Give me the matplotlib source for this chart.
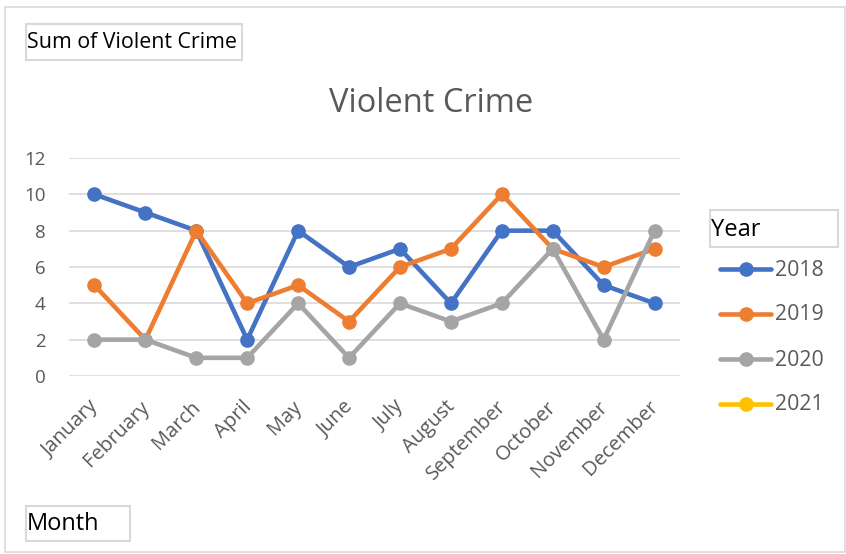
import matplotlib
matplotlib.use("Agg")
import matplotlib.pyplot as plt
import matplotlib.transforms as mtransforms
from matplotlib.patches import Rectangle
from matplotlib.lines import Line2D

plt.rcParams['font.family'] = ['Open Sans', 'DejaVu Sans']

months = ["January", "February", "March", "April", "May", "June", "July",
          "August", "September", "October", "November", "December"]
years = ["2018", "2019", "2020", "2021"]
crime_2018 = [10, 9, 8, 2, 8, 6, 7, 4, 8, 8, 5, 4]
crime_2019 = [5, 2, 8, 4, 5, 3, 6, 7, 10, 7, 6, 7]
crime_2020 = [2, 2, 1, 1, 4, 1, 4, 3, 4, 7, 2, 8]
crime_2021 = []
series = [crime_2018, crime_2019, crime_2020, crime_2021]
colors = ["#4472C4", "#ED7D31", "#A5A5A5", "#FFC000"]
yticks = [0, 2, 4, 6, 8, 10, 12]

W, H = 846, 554
fig = plt.figure(figsize=(W / 100, H / 100), dpi=100)

def fx(px):
    return px / W

def fy(py):
    return 1 - py / H

# outer chart border
fig.add_artist(Rectangle((fx(5), fy(552)), fx(845) - fx(5), fy(7) - fy(552),
                         transform=fig.transFigure, fill=False,
                         edgecolor="#D9D9D9", linewidth=1.2))

ax = fig.add_axes([fx(69), fy(376), fx(680) - fx(69), fy(158) - fy(376)])
x = list(range(len(months)))
for vals, c in zip(series, colors):
    if vals:
        ax.plot(x[:len(vals)], vals, color=c, linewidth=3.3, marker="o",
                markersize=9.5, solid_capstyle="round", zorder=3)

ax.set_xlim(-0.5, len(months) - 0.5)
ax.set_ylim(0, 12)
ax.set_yticks(yticks)
ax.set_yticklabels([str(v) for v in yticks])
ax.yaxis.grid(True, color="#D9D9D9", linewidth=1.2)
ax.set_axisbelow(True)
for s in ax.spines.values():
    s.set_visible(False)
ax.tick_params(axis="y", length=0, pad=17, labelsize=13.5, labelcolor="#595959")
ax.tick_params(axis="x", length=0, pad=15, labelsize=14.5, labelcolor="#595959")
ax.set_xticks(x)
ax.set_xticklabels(months, rotation=45, ha="right", rotation_mode="anchor")
offset = mtransforms.ScaledTranslation(-6 / 100, 0, fig.dpi_scale_trans)
for lab in ax.get_xticklabels():
    lab.set_transform(lab.get_transform() + offset)

fig.text(fx(431), fy(104), "Violent Crime", ha="center", va="center",
         fontsize=23.5, color="#595959")

def boxed(x0, y0, x1, y1, text, size):
    fig.add_artist(Rectangle((fx(x0), fy(y1)), fx(x1) - fx(x0), fy(y0) - fy(y1),
                             transform=fig.transFigure, fill=False,
                             edgecolor="#D9D9D9", linewidth=1.5))
    fig.text(fx(x0 + 1), fy((y0 + y1) / 2 + 1), text, ha="left", va="center",
             fontsize=size, color="black")

boxed(26, 24, 242, 60, "Sum of Violent Crime", 15.4)
boxed(26, 506, 130, 541, "Month", 17)
boxed(710, 210, 838, 247, "Year", 17)

# legend
leg_y = [269, 314, 359, 404]
for yy, name, c in zip(leg_y, years, colors):
    fig.add_artist(Line2D([fx(720), fx(771)], [fy(yy), fy(yy)],
                          transform=fig.transFigure, color=c, linewidth=3.3,
                          solid_capstyle="round"))
    fig.add_artist(Line2D([fx(745.5)], [fy(yy)], transform=fig.transFigure,
                          color=c, marker="o", markersize=9.5, linestyle="none"))
    fig.text(fx(775), fy(yy + 1), name, ha="left", va="center", fontsize=15.3,
             color="#595959")

fig.savefig("out.png", dpi=100)
